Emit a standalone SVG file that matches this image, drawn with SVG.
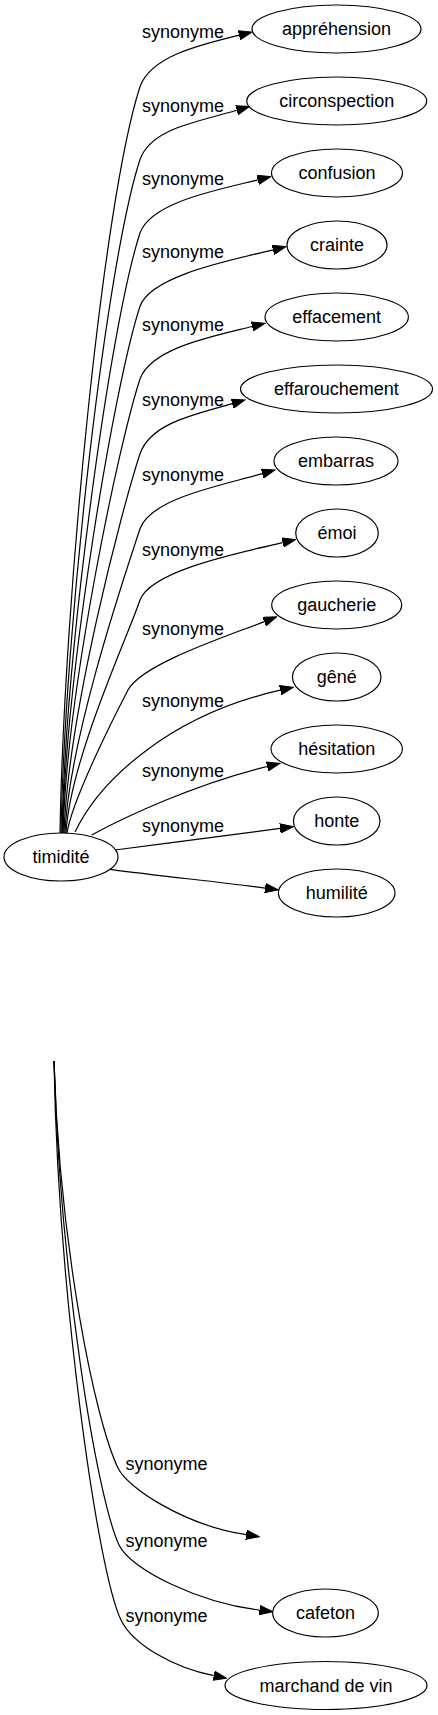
<svg xmlns="http://www.w3.org/2000/svg" width="438" height="1715" viewBox="0 0 438 1715">
<defs>
<marker id="ah" markerUnits="userSpaceOnUse" markerWidth="14" markerHeight="10" viewBox="0 -5 14 10" refX="0" refY="0" orient="auto"><path d="M0,-4.7L13.3,0L0,4.7z" fill="#000" stroke="#000" stroke-width="1"/></marker>
<style>
.n ellipse{fill:none;stroke:#000;stroke-width:1.2}
text{font-family:"Liberation Sans",Arial,sans-serif;font-size:18px;fill:#000}
.n text,.e text{text-anchor:middle}
.e path{fill:none;stroke:#000;stroke-width:1.2;marker-end:url(#ah)}
</style>
</defs>
<rect width="438" height="1715" fill="#fff"/>
<g id="edges" class="e">
<path d="M60,833 C64,600 103,200 140,86.7 C151,56 200.3,44.8 239.1,35.2"/>
<text x="183" y="38.3">synonyme</text>
<path d="M61,833 C65,624 106.6,261.5 140,159.5 C151,128 198.5,121.8 236.8,110.3"/>
<text x="183" y="111.5">synonyme</text>
<path d="M62,833 C66,647 110.4,323.6 140,233 C151,202 219,189.5 257.8,179.9"/>
<text x="183" y="185">synonyme</text>
<path d="M62.5,833 C66.5,670 113.9,386.3 140,306.3 C151,275 234.3,259.5 273.1,249.9"/>
<text x="183" y="258.3">synonyme</text>
<path d="M63,833 C67,692 117.5,448 140,379 C151,348 213.3,336.1 252.1,326.5"/>
<text x="183" y="331">synonyme</text>
<path d="M64,833 C68,715.4 121.2,511.3 140,453.7 C151,423 193.8,414.9 232.2,403.7"/>
<text x="183" y="405.7">synonyme</text>
<path d="M65,833 C69,738.7 124.9,574.9 140,528.7 C151,498 223.8,484.9 262.2,473.7"/>
<text x="183" y="480.7">synonyme</text>
<path d="M66,833 C70,760 128.6,634.7 140,600 C151,570 243.7,551.8 282.6,542.6"/>
<text x="183" y="556">synonyme</text>
<path d="M67,833 C72,800 115,715 128,690 C142,664 225,637 264.3,621.6"/>
<text x="183" y="634.6">synonyme</text>
<path d="M75,832 C100,780 170,715 280.3,690.2"/>
<text x="183" y="707">synonyme</text>
<path d="M91.7,835 C125,817 195,784 267.1,766.5"/>
<text x="183" y="777">synonyme</text>
<path d="M115,850 C170,843 230,835 280.1,828.4"/>
<text x="183" y="831.7">synonyme</text>
<path d="M110,869.3 C160,876 220,882 265.1,888.1"/>
<path d="M54,1061 C60,1250 95,1420 118,1468 C128,1489 186.8,1525.8 246.1,1534.7"/>
<text x="166.5" y="1470">synonyme</text>
<path d="M54,1061 C60,1270 96,1495 119,1545 C131,1570 199.9,1602.9 259.5,1610.1"/>
<text x="166.5" y="1546.7">synonyme</text>
<path d="M54,1061 C58,1290 97,1570 121,1620 C133,1645 174.5,1668 213.7,1675.7"/>
<text x="166.5" y="1621.7">synonyme</text>
</g>
<g id="timidite" class="n"><ellipse cx="61" cy="857" rx="57" ry="24"/><text x="61" y="863">timidité</text></g>
<g id="apprehension" class="n"><ellipse cx="336.5" cy="29" rx="84.5" ry="24"/><text x="336.5" y="35">appréhension</text></g>
<g id="circonspection" class="n"><ellipse cx="336.7" cy="101" rx="90" ry="24"/><text x="336.7" y="107">circonspection</text></g>
<g id="confusion" class="n"><ellipse cx="337" cy="173" rx="65.5" ry="24"/><text x="337" y="179">confusion</text></g>
<g id="crainte" class="n"><ellipse cx="337" cy="245" rx="50" ry="24"/><text x="337" y="251">crainte</text></g>
<g id="effacement" class="n"><ellipse cx="336.7" cy="317" rx="71.7" ry="24"/><text x="336.7" y="323">effacement</text></g>
<g id="effarouchement" class="n"><ellipse cx="336.5" cy="389" rx="96" ry="24"/><text x="336.5" y="395">effarouchement</text></g>
<g id="embarras" class="n"><ellipse cx="336" cy="461" rx="62" ry="24"/><text x="336" y="467">embarras</text></g>
<g id="emoi" class="n"><ellipse cx="337" cy="533" rx="41.3" ry="24"/><text x="337" y="539">émoi</text></g>
<g id="gaucherie" class="n"><ellipse cx="336.7" cy="605" rx="65" ry="24"/><text x="336.7" y="611">gaucherie</text></g>
<g id="gene" class="n"><ellipse cx="336.7" cy="677" rx="44.3" ry="24"/><text x="336.7" y="683">gêné</text></g>
<g id="hesitation" class="n"><ellipse cx="336.7" cy="749" rx="65.7" ry="24"/><text x="336.7" y="755">hésitation</text></g>
<g id="honte" class="n"><ellipse cx="336.7" cy="821" rx="43.3" ry="24"/><text x="336.7" y="827">honte</text></g>
<g id="humilite" class="n"><ellipse cx="336.7" cy="893" rx="58.3" ry="24"/><text x="336.7" y="899">humilité</text></g>
<g id="cafeton" class="n"><ellipse cx="325.5" cy="1613" rx="52.8" ry="24"/><text x="325.5" y="1619">cafeton</text></g>
<g id="marchand_de_vin" class="n"><ellipse cx="326" cy="1685.5" rx="101" ry="24"/><text x="326" y="1691.5">marchand de vin</text></g>
</svg>
